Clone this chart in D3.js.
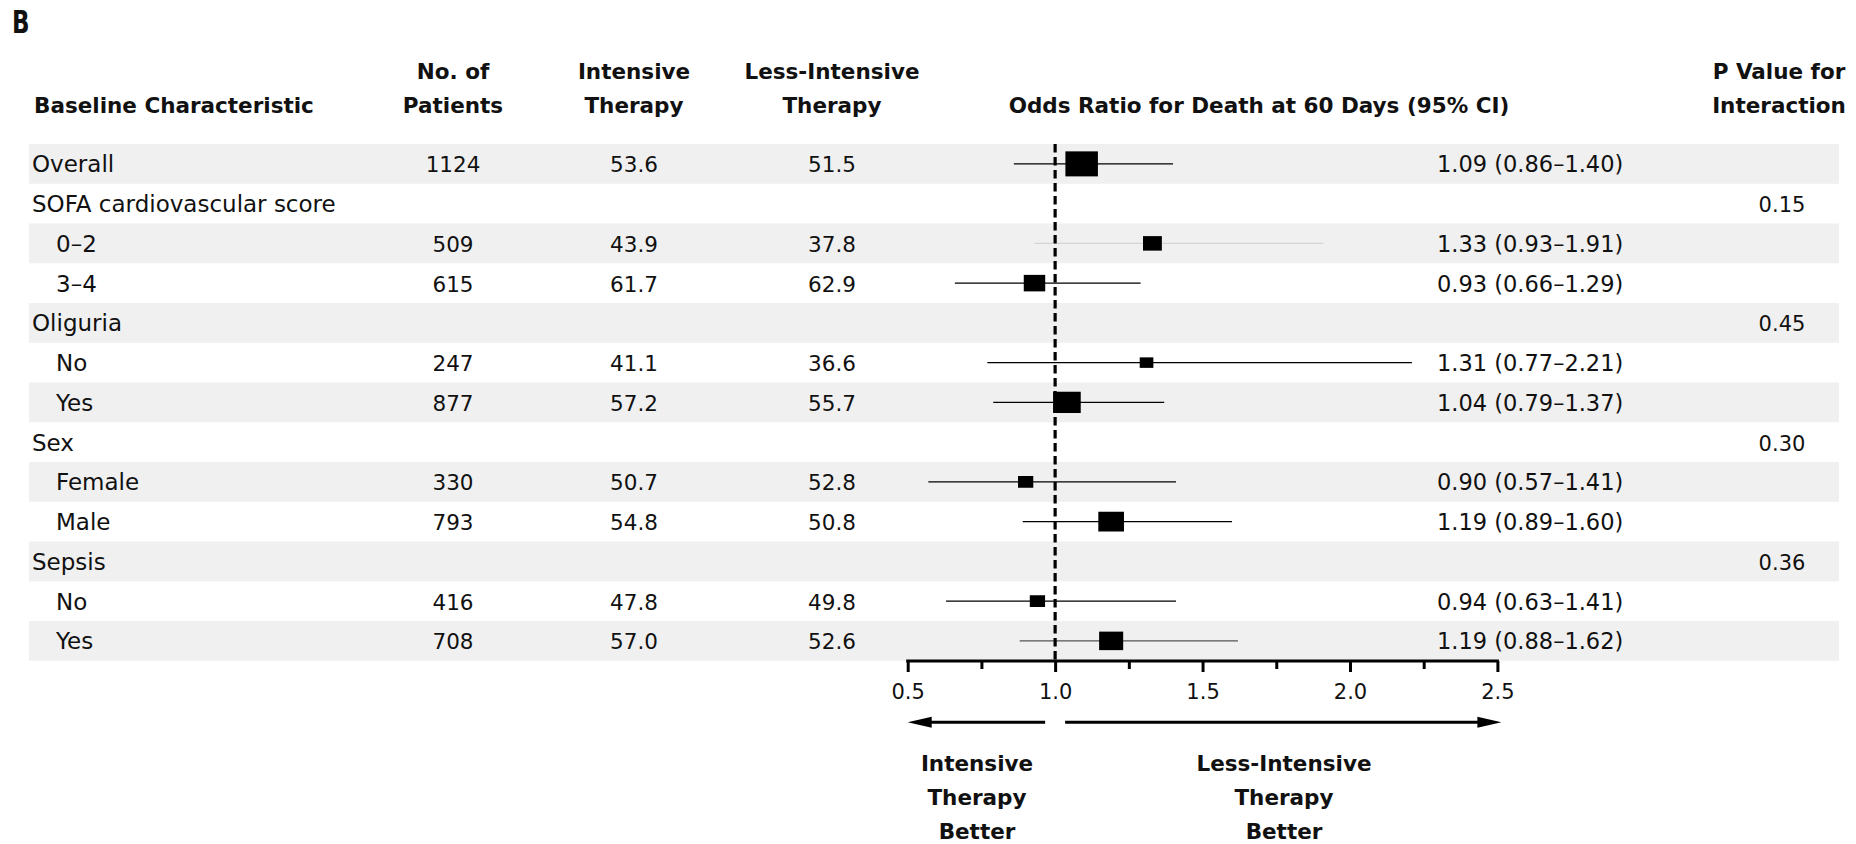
<!DOCTYPE html>
<html>
<head>
<meta charset="utf-8">
<script src="https://cdn.jsdelivr.net/npm/d3@7"></script>
<style>
  html, body { margin: 0; padding: 0; background: #fff; }
  svg { display: block; }
  text { font-family: "DejaVu Sans", sans-serif; fill: #111; }
  .bold { font-weight: bold; }
</style>
</head>
<body>
<svg id="chart" width="1856" height="844"></svg>
<script>
// ---------------- DATA ----------------
const labels = ["Overall", "SOFA cardiovascular score", "0\u20132", "3\u20134", "Oliguria", "No", "Yes",
                "Sex", "Female", "Male", "Sepsis", "No", "Yes"];
const indentLevel = [0, 0, 1, 1, 0, 1, 1, 0, 1, 1, 0, 1, 1];
const patients = [1124, null, 509, 615, null, 247, 877, null, 330, 793, null, 416, 708];
const intensive = [53.6, null, 43.9, 61.7, null, 41.1, 57.2, null, 50.7, 54.8, null, 47.8, 57.0];
const lessIntensive = [51.5, null, 37.8, 62.9, null, 36.6, 55.7, null, 52.8, 50.8, null, 49.8, 52.6];
const oddsRatio = [1.09, null, 1.33, 0.93, null, 1.31, 1.04, null, 0.90, 1.19, null, 0.94, 1.19];
const ciLow = [0.86, null, 0.93, 0.66, null, 0.77, 0.79, null, 0.57, 0.89, null, 0.63, 0.88];
const ciHigh = [1.40, null, 1.91, 1.29, null, 2.21, 1.37, null, 1.41, 1.60, null, 1.41, 1.62];
const pInteraction = [null, "0.15", null, null, "0.45", null, null, "0.30", null, null, "0.36", null, null];
const boxWeight = [100, null, 58, 66, null, 42, 85, null, 47, 79, null, 47, 74]; // relative, Overall = 100
const tickValues = [0.5, 0.75, 1.0, 1.25, 1.5, 1.75, 2.0, 2.25, 2.5];
const majorTicks = [0.5, 1.0, 1.5, 2.0, 2.5];
const headers = {
  baseline: ["Baseline Characteristic"],
  patients: ["No. of", "Patients"],
  intensive: ["Intensive", "Therapy"],
  less: ["Less-Intensive", "Therapy"],
  or: ["Odds Ratio for Death at 60 Days (95% CI)"],
  p: ["P Value for", "Interaction"]
};
const betterLeft = ["Intensive", "Therapy", "Better"];
const betterRight = ["Less-Intensive", "Therapy", "Better"];
const panelLabel = "B";

// ---------------- STYLES ----------------
const ciStroke = ["#000", null, "#d4d4d4", "#000", null, "#000", "#000", null, "#000", "#000", null, "#000", "#555"];
const bandFill = "#f0f0f0";

// ---------------- LAYOUT ----------------
const svg = d3.select("#chart");
const n = labels.length;
const y = d3.scaleBand().domain(d3.range(n)).range([144, 144 + n * 39.75]).paddingInner(0);
const x = d3.scaleLinear().domain([0.5, 2.5]).range([907.7, 1497.4]);
const boxW = d3.scaleLinear().domain([0, 100]).range([0, 32.5]);
const yc = i => y(i) + y.bandwidth() / 2;
const axisY = 661;

const colX = { label: 32, indent: 56, patients: 453, intensive: 634, less: 832, orText: 1437, p: 1782 };

// shaded bands
svg.append("g").selectAll("rect")
  .data(d3.range(n).filter(i => i % 2 === 0))
  .join("rect")
  .attr("x", 29).attr("width", 1839 - 29)
  .attr("y", i => y(i)).attr("height", y.bandwidth())
  .attr("fill", bandFill);

// panel label
svg.append("text").attr("class", "bold")
  .attr("transform", "translate(12,33) scale(0.72,1)")
  .style("font-size", "32px").text(panelLabel);

// headers
function headerLines(lines, xPos, anchor) {
  const base = lines.length === 2 ? 79 : 113;
  lines.forEach((t, k) => {
    svg.append("text").attr("class", "bold")
      .attr("x", xPos).attr("y", base + k * 34)
      .attr("text-anchor", anchor)
      .style("font-size", "21.5px").text(t);
  });
}
headerLines(headers.baseline, 34, "start");
headerLines(headers.patients, colX.patients, "middle");
headerLines(headers.intensive, colX.intensive, "middle");
headerLines(headers.less, colX.less, "middle");
headerLines(headers.or, 1259, "middle");
headerLines(headers.p, 1779, "middle");

// row texts
const rows = svg.append("g");
rows.selectAll("text.lab").data(labels).join("text")
  .attr("class", "lab")
  .attr("x", (d, i) => indentLevel[i] ? colX.indent : colX.label)
  .attr("y", (d, i) => yc(i) + 8.5)
  .style("font-size", "23px").text(d => d);

function numCol(arr, xPos, fmt) {
  rows.selectAll(null).data(arr.map((v, i) => ({ v, i })).filter(d => d.v !== null)).join("text")
    .attr("x", xPos).attr("y", d => yc(d.i) + 8.5)
    .attr("text-anchor", "middle")
    .style("font-size", "21.5px").text(d => fmt(d.v));
}
numCol(patients, colX.patients, d3.format("d"));
numCol(intensive, colX.intensive, d3.format(".1f"));
numCol(lessIntensive, colX.less, d3.format(".1f"));

const f2 = d3.format(".2f");
rows.selectAll(null).data(d3.range(n).filter(i => oddsRatio[i] !== null)).join("text")
  .attr("x", colX.orText).attr("y", i => yc(i) + 8.5)
  .style("font-size", "22.5px")
  .text(i => `${f2(oddsRatio[i])} (${f2(ciLow[i])}\u2013${f2(ciHigh[i])})`);

rows.selectAll(null).data(d3.range(n).filter(i => pInteraction[i] !== null)).join("text")
  .attr("x", colX.p).attr("y", i => yc(i) + 8.5)
  .attr("text-anchor", "middle")
  .style("font-size", "21px").text(i => pInteraction[i]);

// forest marks
const est = d3.range(n).filter(i => oddsRatio[i] !== null);
const marks = svg.append("g");
marks.selectAll("line.ci").data(est).join("line")
  .attr("class", "ci")
  .attr("x1", i => x(ciLow[i])).attr("x2", i => x(ciHigh[i]))
  .attr("y1", i => yc(i)).attr("y2", i => yc(i))
  .attr("stroke", i => ciStroke[i]).attr("stroke-width", 1.4);

// reference line at 1.0
svg.append("line")
  .attr("x1", x(1)).attr("x2", x(1))
  .attr("y1", y(0)).attr("y2", axisY)
  .attr("stroke", "#000").attr("stroke-width", 3.2)
  .attr("stroke-dasharray", "8.5,4.5");

marks.selectAll("rect.box").data(est).join("rect")
  .attr("class", "box")
  .attr("x", i => x(oddsRatio[i]) - boxW(boxWeight[i]) / 2)
  .attr("width", i => boxW(boxWeight[i]))
  .attr("y", i => yc(i) - boxW(boxWeight[i]) * 0.77 / 2)
  .attr("height", i => boxW(boxWeight[i]) * 0.77)
  .attr("fill", "#000");

// axis
const axis = d3.axisBottom(x)
  .tickValues(tickValues)
  .tickSize(8)
  .tickSizeOuter(0)
  .tickFormat(d => majorTicks.includes(d) ? d3.format(".1f")(d) : "");
const gAxis = svg.append("g").attr("transform", `translate(0,${axisY})`).call(axis);
gAxis.select(".domain").attr("stroke", "#000").attr("stroke-width", 3)
  .attr("d", `M${x(0.5) - 1.5},0H${x(2.5) + 1.5}`);
gAxis.selectAll(".tick line").attr("stroke", "#000").attr("stroke-width", 3)
  .attr("y2", d => majorTicks.includes(d) ? 11 : 8);
gAxis.selectAll(".tick text")
  .attr("y", 38).attr("dy", null)
  .style("font-family", "'DejaVu Sans', sans-serif")
  .style("font-size", "21px").attr("fill", "#111");

// direction arrows
const arrowY = 722.3;
function arrow(x1, x2) {
  const dir = Math.sign(x2 - x1);
  const headL = 24, headH = 5.5;
  svg.append("line")
    .attr("x1", x1).attr("x2", x2 - dir * headL * 0.8)
    .attr("y1", arrowY).attr("y2", arrowY)
    .attr("stroke", "#000").attr("stroke-width", 3);
  svg.append("path")
    .attr("d", `M${x2},${arrowY} L${x2 - dir * headL},${arrowY - headH} L${x2 - dir * headL},${arrowY + headH} Z`)
    .attr("fill", "#000");
}
arrow(x(1) - 10, x(0.5));
arrow(x(1) + 10, x(2.5) + 4);

function betterLabel(lines, cx) {
  lines.forEach((t, k) => {
    svg.append("text").attr("class", "bold")
      .attr("x", cx).attr("y", 771 + k * 34)
      .attr("text-anchor", "middle")
      .style("font-size", "21.5px").text(t);
  });
}
betterLabel(betterLeft, 977);
betterLabel(betterRight, 1284);
</script>
</body>
</html>
